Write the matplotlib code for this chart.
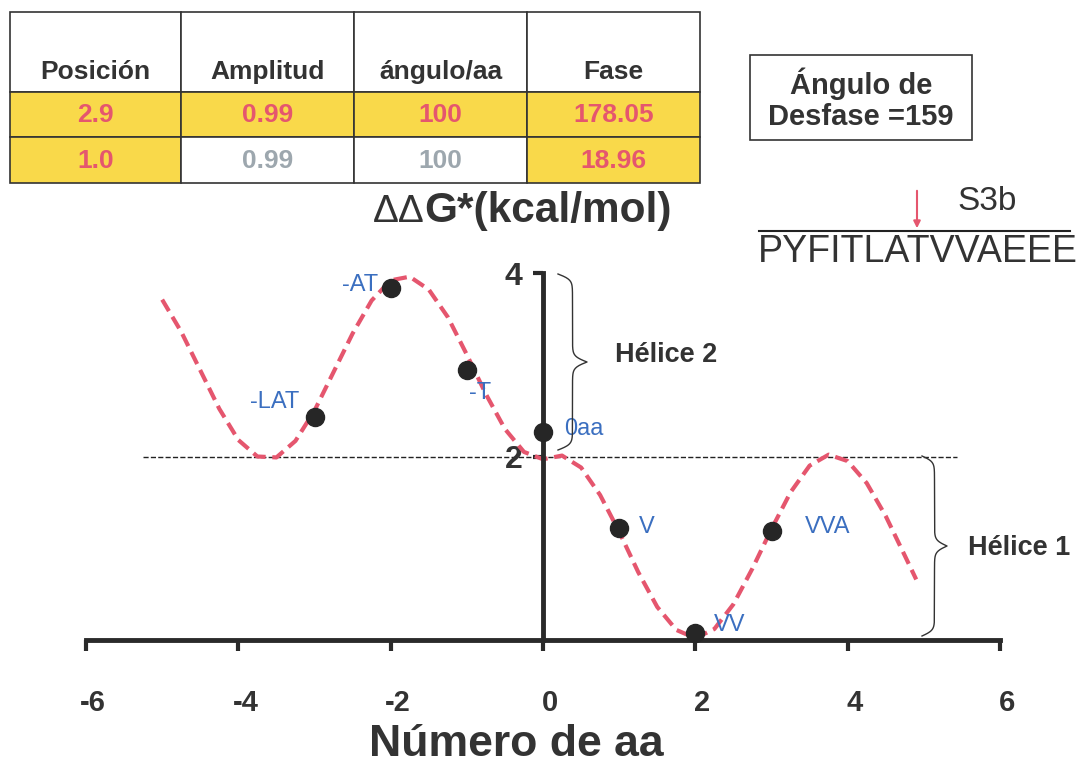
import matplotlib
matplotlib.use('Agg')
import matplotlib.pyplot as plt
import matplotlib.transforms as mtransforms
from matplotlib.patches import Rectangle
from matplotlib.lines import Line2D
import numpy as np

W, H = 1079, 767

# dashed curve
curve_x = [-5.0, -4.75, -4.5, -4.25, -4.0, -3.75, -3.5, -3.25, -3.0, -2.75,
           -2.5, -2.25, -2.0, -1.75, -1.5, -1.25, -1.0, -0.75, -0.5, -0.25,
           0.0, 0.25, 0.5, 0.75, 1.0, 1.25, 1.5, 1.75, 2.0, 2.25,
           2.5, 2.75, 3.0, 3.25, 3.5, 3.75, 4.0, 4.25, 4.5, 4.75, 4.9]
curve_y = [3.71, 3.36, 2.94, 2.52, 2.18, 2.00, 1.99, 2.17, 2.50, 2.92,
           3.34, 3.70, 3.92, 3.96, 3.82, 3.52, 3.11, 2.68, 2.30, 2.05,
           1.97, 2.01, 1.88, 1.58, 1.18, 0.74, 0.36, 0.11, 0.02, 0.12,
           0.39, 0.78, 1.21, 1.61, 1.90, 2.02, 1.95, 1.71, 1.35, 0.92, 0.66]

# black dots
point_x = [-3, -2, -1, 0, 1, 2, 3]
point_y = [2.43, 3.84, 2.94, 2.27, 1.22, 0.08, 1.19]
point_labels = ['-LAT', '-AT', '-T', '0aa', 'V', 'VV', 'VVA']

x_ticks = [-6, -4, -2, 0, 2, 4, 6]
y_ticks = [2, 4]
threshold = 2

table_header = ['Posición', 'Amplitud', 'ángulo/aa', 'Fase']
table_rows = [['2.9', '0.99', '100', '178.05'],
              ['1.0', '0.99', '100', '18.96']]
table_highlight = [[True, True, True, True],
                   [True, False, False, True]]

phase_shift = 159
segment = 'S3b'
sequence = 'PYFITLATVVAEEE'

plt.rcParams['font.family'] = ['Liberation Sans', 'DejaVu Sans']

DARK = '#333333'
PINK = '#E5566E'
BLUE = '#3B6FC0'
YELLOW = '#F9D94A'
GRAY = '#9DA7AE'


def fx(x):
    return x / W


def fy(y):
    return 1 - y / H


fig = plt.figure(figsize=(W / 100, H / 100), dpi=100)
fig.patch.set_facecolor('white')

ax = fig.add_axes([86 / W, (H - 640) / H, 914 / W, 367 / H])
ax.set_xlim(-6, 6)
ax.set_ylim(0, 4)
ax.patch.set_alpha(0)

for side in ['top', 'right']:
    ax.spines[side].set_visible(False)
ax.spines['left'].set_position(('data', 0))
for side in ['left', 'bottom']:
    ax.spines[side].set_linewidth(3.5)
    ax.spines[side].set_color('#2a2a2a')
    ax.spines[side].set_capstyle('projecting')

ax.set_xticks(x_ticks)
ax.set_xticklabels([str(v) for v in x_ticks])
ax.set_yticks(y_ticks)
ax.set_yticklabels([str(v) for v in y_ticks])
ax.tick_params(axis='x', direction='out', length=8, width=3, color='#2a2a2a',
               pad=27, labelsize=21, labelcolor=DARK)
ax.tick_params(axis='y', direction='out', length=7, width=3, color='#2a2a2a',
               pad=8, labelsize=23, labelcolor=DARK)
for lbl in ax.get_xticklabels() + ax.get_yticklabels():
    lbl.set_fontweight('bold')
shift = mtransforms.ScaledTranslation(7 / 100, 0, fig.dpi_scale_trans)
for lbl in ax.get_xticklabels():
    lbl.set_transform(lbl.get_transform() + shift)

ax.hlines(threshold, -5.25, 5.44, colors='#222222', linestyles='--', lw=1,
          zorder=1)
ax.plot(curve_x, curve_y, color=PINK, lw=3, dashes=(3.2, 1.6), zorder=2,
        clip_on=False)
ax.plot(point_x, point_y, 'o', ms=13, color='#262626', zorder=5,
        clip_on=False)

label_offsets = [(-40, 15), (-31, 3), (13, -23), (41, 3), (28, 1), (34, 8),
                 (56, 4)]
for x, y, lbl, off in zip(point_x, point_y, point_labels, label_offsets):
    ax.annotate(lbl, (x, y), xytext=off, textcoords='offset pixels',
                ha='center', va='center', color=BLUE, fontsize=17,
                zorder=6, annotation_clip=False)


def brace(x0, y_top, y_bot, w):
    half = (y_bot - y_top) / 2
    t = np.linspace(0, half, 200)
    beta = 0.35
    s = 1 / (1 + np.exp(-beta * t)) + 1 / (1 + np.exp(-beta * (t - half)))
    xs1 = x0 + w * (s - 0.5)
    ys1 = y_top + t
    xs = np.concatenate([xs1, xs1[::-1][1:]])
    ys = np.concatenate([ys1, (y_bot - t)[::-1][1:]])
    fig.add_artist(Line2D(fx(xs), fy(ys), transform=fig.transFigure,
                          color=DARK, lw=1))


brace(558, 274, 450, 29)
brace(922, 456, 636, 25)
fig.text(fx(615), fy(355), 'Hélice 2', ha='left', va='center',
         fontsize=19.5, fontweight='bold', color=DARK)
fig.text(fx(968), fy(548), 'Hélice 1', ha='left', va='center',
         fontsize=19.5, fontweight='bold', color=DARK)

# title and axis label
fig.text(fx(425), fy(222), 'ΔΔ', ha='right', va='baseline', fontsize=28,
         color=DARK)
fig.text(fx(424), fy(222), 'G*(kcal/mol)', ha='left', va='baseline',
         fontsize=30.5, fontweight='bold', color=DARK)
fig.text(fx(516), fy(745), 'Número de aa', ha='center', va='center',
         fontsize=32, fontweight='bold', color=DARK)

# parameter table
col_edges = [10, 181, 354, 527, 700]
row_edges = [12, 92, 137, 183]
for j, head in enumerate(table_header):
    x0, x1 = col_edges[j], col_edges[j + 1]
    fig.add_artist(Rectangle((fx(x0), fy(row_edges[1])), fx(x1 - x0),
                             (row_edges[1] - row_edges[0]) / H,
                             transform=fig.transFigure, facecolor='white',
                             edgecolor=DARK, lw=1.2))
    fig.text(fx((x0 + x1) / 2), fy(72), head, ha='center', va='center',
             fontsize=19, fontweight='bold', color=DARK)
for i, row in enumerate(table_rows):
    y0, y1 = row_edges[i + 1], row_edges[i + 2]
    for j, val in enumerate(row):
        x0, x1 = col_edges[j], col_edges[j + 1]
        hl = table_highlight[i][j]
        fig.add_artist(Rectangle((fx(x0), fy(y1)), fx(x1 - x0),
                                 (y1 - y0) / H, transform=fig.transFigure,
                                 facecolor=YELLOW if hl else 'white',
                                 edgecolor=DARK, lw=1.2))
        fig.text(fx((x0 + x1) / 2), fy((y0 + y1) / 2 + 1), val,
                 ha='center', va='center', fontsize=19, fontweight='bold',
                 color=PINK if hl else GRAY)

# phase shift box
fig.add_artist(Rectangle((fx(750), fy(140)), fx(222), 85 / H,
                         transform=fig.transFigure, facecolor='white',
                         edgecolor=DARK, lw=1.2))
fig.text(fx(861), fy(99), f'Ángulo de\nDesfase ={phase_shift}',
         ha='center', va='center', fontsize=21, fontweight='bold',
         color=DARK, linespacing=1.15)

# sequence with marker
fig.text(fx(987), fy(202), segment, ha='center', va='center', fontsize=24,
         color=DARK)
fig.add_artist(Line2D([fx(759), fx(1070)], [fy(231), fy(231)],
                      transform=fig.transFigure, color='#222222', lw=1.5))
fig.text(fx(758), fy(252), sequence, ha='left', va='center', fontsize=27,
         color=DARK)
ax.annotate('', xy=(fx(917), fy(231)), xytext=(fx(917), fy(188)),
            xycoords='figure fraction', textcoords='figure fraction',
            arrowprops=dict(arrowstyle='-|>', color=PINK, lw=1.5,
                            mutation_scale=10),
            annotation_clip=False)

fig.savefig('out.png', dpi=100)
